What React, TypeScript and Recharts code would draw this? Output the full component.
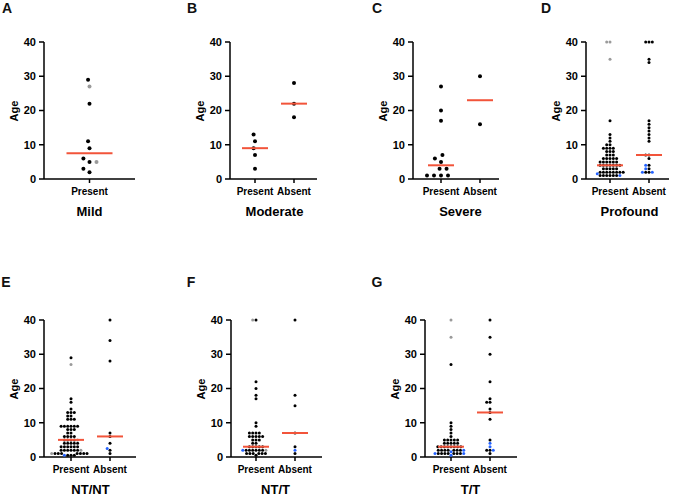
import { ScatterChart, Scatter, XAxis, YAxis } from 'recharts';

const FONT = '"Liberation Sans", Arial, Helvetica, sans-serif';

const groupLabels = ['Present', 'Absent'];
const panelLetters = ['A', 'B', 'C', 'D', 'E', 'F', 'G'];
const panelTitles = ['Mild', 'Moderate', 'Severe', 'Profound', 'NT/NT', 'NT/T', 'T/T'];
const ageTicks = [0, 10, 20, 30, 40];

// Mild
const mildPresentBlack = [29, 22, 11, 9, 6, 5, 3, 2];
const mildPresentGray = [27, 5];
const mildMedians = [7.5];

// Moderate
const moderatePresentBlack = [13, 11, 9, 7, 3];
const moderateAbsentBlack = [28, 22, 18];
const moderateMedians = [9, 22];

// Severe
const severePresentBlack = [27, 20, 17, 7, 6, 5, 3, 3, 1, 1, 1, 1];
const severeAbsentBlack = [30, 16];
const severeMedians = [4, 23];

// Profound
const profoundPresentBlack = [17, 13, 12, 11, 10, 10, 9, 9, 9, 9, 8, 8, 8, 7, 7, 7, 6, 6, 6, 6, 6, 5, 5, 5, 5, 5, 5, 4, 4, 4, 4, 4, 4, 4, 3, 3, 3, 3, 3, 2, 2, 2, 2, 2, 2, 2, 2, 1, 1, 1, 1, 1, 1];
const profoundPresentGray = [40, 40, 35];
const profoundPresentBlue = [1.5, 1];
const profoundAbsentBlack = [40, 40, 40, 35, 34, 17, 16, 15, 14, 13, 12, 11, 7, 7, 6, 4, 3, 2, 2];
const profoundAbsentBlue = [4, 3, 2, 2];
const profoundMedians = [4, 7];

// NT/NT
const ntntPresentBlack = [29, 17, 16, 14, 13, 13, 13, 12, 12, 11, 11, 11, 9, 9, 9, 9, 9, 9, 8, 8, 8, 7, 7, 6, 6, 6, 6, 5, 5, 5, 5, 4, 4, 4, 4, 4, 3, 3, 3, 3, 3, 3, 2, 2, 2, 2, 2, 2, 1, 1, 1, 1, 1, 1, 1, 0.5, 0.5, 0.5];
const ntntPresentGray = [27, 5, 2, 1];
const ntntPresentBlue = [0.5];
const ntntAbsentBlack = [40, 34, 28, 7, 6, 4, 2, 1];
const ntntAbsentBlue = [2.5];
const ntntMedians = [5, 6];

// NT/T
const nttPresentBlack = [40, 22, 20, 18, 17, 10, 9, 7, 7, 7, 7, 6, 6, 6, 6, 6, 5, 5, 5, 4, 4, 3, 3, 3, 3, 3, 2, 2, 2, 2, 2, 2, 1, 1, 1, 1, 1, 1, 0.5];
const nttPresentGray = [40, 2];
const nttPresentBlue = [2];
const nttAbsentBlack = [40, 18, 15, 7, 3, 1];
const nttAbsentBlue = [2];
const nttMedians = [3, 7];

// T/T
const ttPresentBlack = [27, 10, 9, 8, 7, 6, 5, 5, 5, 5, 5, 4, 4, 4, 4, 4, 3, 3, 3, 3, 3, 3, 3, 3, 2, 2, 2, 2, 2, 2, 2, 1, 1, 1, 1, 1, 1, 1];
const ttPresentGray = [40, 35];
const ttPresentBlue = [2, 1.5, 1, 1, 0.5];
const ttAbsentBlack = [40, 35, 30, 22, 17, 16, 16, 14, 13, 11, 5, 2, 2, 1];
const ttAbsentBlue = [4, 3, 2];
const ttMedians = [3, 13];

type Group = { black: number[]; gray?: number[]; blue?: number[] };
type Pt = { x: number; y: number };

const panelData: { groups: Group[]; medians: number[] }[] = [
  { groups: [{ black: mildPresentBlack, gray: mildPresentGray }], medians: mildMedians },
  { groups: [{ black: moderatePresentBlack }, { black: moderateAbsentBlack }], medians: moderateMedians },
  { groups: [{ black: severePresentBlack }, { black: severeAbsentBlack }], medians: severeMedians },
  {
    groups: [
      { black: profoundPresentBlack, gray: profoundPresentGray, blue: profoundPresentBlue },
      { black: profoundAbsentBlack, blue: profoundAbsentBlue },
    ],
    medians: profoundMedians,
  },
  {
    groups: [
      { black: ntntPresentBlack, gray: ntntPresentGray, blue: ntntPresentBlue },
      { black: ntntAbsentBlack, blue: ntntAbsentBlue },
    ],
    medians: ntntMedians,
  },
  {
    groups: [
      { black: nttPresentBlack, gray: nttPresentGray, blue: nttPresentBlue },
      { black: nttAbsentBlack, blue: nttAbsentBlue },
    ],
    medians: nttMedians,
  },
  {
    groups: [
      { black: ttPresentBlack, gray: ttPresentGray, blue: ttPresentBlue },
      { black: ttAbsentBlack, blue: ttAbsentBlue },
    ],
    medians: ttMedians,
  },
];

// layout: y-axis x, top of plot, plot width, first category offset, dot radius, swarm spacing, median width, letter centre
const PLOT_H = 137;
const layout = [
  { x: 44, y: 42, w: 91, first: 45.5, r: 2, gap: 7, medW: 46, lx: 7, ly: 8 },
  { x: 230, y: 42, w: 87, first: 25, r: 2, gap: 7, medW: 26, lx: 192, ly: 8 },
  { x: 413, y: 42, w: 86, first: 28, r: 2, gap: 7, medW: 26, lx: 377, ly: 8 },
  { x: 586, y: 42, w: 83, first: 24, r: 1.5, gap: 3.3, medW: 26, lx: 546, ly: 8 },
  { x: 44, y: 320, w: 92, first: 27, r: 1.5, gap: 3.3, medW: 26, lx: 6, ly: 282 },
  { x: 231, y: 320, w: 91, first: 25, r: 1.5, gap: 3.3, medW: 26, lx: 191, ly: 282 },
  { x: 425, y: 320, w: 92, first: 26, r: 1.5, gap: 3.3, medW: 26, lx: 377, ly: 282 },
];
const STEP = 39;

const COLORS = { black: '#000000', gray: '#9a9a9a', blue: '#2563ff' };

// simple beeswarm: place each point closest to centre without overlapping
function swarm(vals: number[], ppuY: number, d: number): number[] {
  const idx = vals.map((_, i) => i).sort((a, b) => vals[a] - vals[b]);
  const placed: Pt[] = [];
  const out = new Array(vals.length).fill(0);
  for (const i of idx) {
    const y = vals[i] * ppuY;
    const cands = [0];
    for (const p of placed) {
      const dy = Math.abs(p.y - y);
      if (dy < d) {
        const dx = Math.sqrt(d * d - dy * dy);
        cands.push(p.x + dx, p.x - dx);
      }
    }
    cands.sort((a, b) => Math.abs(a) - Math.abs(b) || a - b);
    let x = 0;
    for (const c of cands) {
      if (placed.every((p) => (p.x - c) ** 2 + (p.y - y) ** 2 >= d * d - 0.01)) {
        x = c;
        break;
      }
    }
    placed.push({ x, y });
    out[i] = x;
  }
  return out;
}

function buildPoints(groups: Group[], gap: number) {
  const ppuY = PLOT_H / 40;
  const res: Record<'black' | 'gray' | 'blue', Pt[]> = { black: [], gray: [], blue: [] };
  groups.forEach((g, gi) => {
    const items: { v: number; c: 'black' | 'gray' | 'blue' }[] = [
      ...g.black.map((v) => ({ v, c: 'black' as const })),
      ...(g.gray || []).map((v) => ({ v, c: 'gray' as const })),
      ...(g.blue || []).map((v) => ({ v, c: 'blue' as const })),
    ];
    const offs = swarm(items.map((it) => it.v), ppuY, gap);
    items.forEach((it, k) => res[it.c].push({ x: gi + 1 + offs[k] / STEP, y: it.v }));
  });
  return res;
}

const dotShape = (r: number, fill: string) => (p: any) => (
  <circle cx={p.cx} cy={p.cy} r={r} fill={fill} />
);
const medianShape = (w: number) => (p: any) => (
  <line x1={p.cx - w / 2} x2={p.cx + w / 2} y1={p.cy} y2={p.cy} stroke="#f2543a" strokeWidth={2} />
);

const xTickStyle = { fontSize: 10, fontWeight: 700, fill: '#000', fontFamily: FONT };
const yTickStyle = { fontSize: 11, fontWeight: 700, fill: '#000', fontFamily: FONT };
const axisStroke = { stroke: '#000', strokeWidth: 1.5 };

function Panel({ i }: { i: number }) {
  const L = layout[i];
  const data = panelData[i];
  const n = data.groups.length;
  const pts = buildPoints(data.groups, L.gap);
  const min = 1 - L.first / STEP;
  const max = min + L.w / STEP;
  const ticks = data.groups.map((_, k) => k + 1);
  const medPts = data.medians.map((m, k) => ({ x: k + 1, y: m }));
  const titleX = L.x + L.first + (STEP * (n - 1)) / 2;
  return (
    <>
      <div
        style={{
          position: 'absolute', left: L.lx, top: L.ly, transform: 'translate(-50%,-50%)',
          fontSize: 14, lineHeight: '14px', fontWeight: 700, color: '#111',
        }}
      >
        {panelLetters[i]}
      </div>
      <div
        style={{
          position: 'absolute', left: L.x - 30, top: L.y + PLOT_H / 2,
          transform: 'translate(-50%,-50%) rotate(-90deg)',
          fontSize: 11, lineHeight: '11px', fontWeight: 700, color: '#000',
        }}
      >
        Age
      </div>
      <div
        style={{
          position: 'absolute', left: titleX, top: L.y + PLOT_H + 32, transform: 'translate(-50%,-50%)',
          fontSize: 13, lineHeight: '13px', fontWeight: 700, color: '#000', whiteSpace: 'nowrap',
        }}
      >
        {panelTitles[i]}
      </div>
      <div style={{ position: 'absolute', left: L.x - 40, top: L.y - 5 }}>
        <ScatterChart width={40 + L.w + 5} height={5 + PLOT_H + 30} margin={{ top: 5, right: 5, bottom: 0, left: 0 }}>
          <XAxis
            type="number"
            dataKey="x"
            domain={[min, max]}
            ticks={ticks}
            interval={0}
            tickFormatter={(v: number) => groupLabels[Math.round(v) - 1]}
            tick={xTickStyle}
            tickSize={4}
            tickMargin={5}
            axisLine={axisStroke}
            tickLine={axisStroke}
            height={30}
          />
          <YAxis
            type="number"
            dataKey="y"
            domain={[0, 40]}
            ticks={ageTicks}
            interval={0}
            tick={yTickStyle}
            tickSize={5}
            tickMargin={3}
            axisLine={axisStroke}
            tickLine={axisStroke}
            width={40}
          />
          <Scatter data={pts.black} shape={dotShape(L.r, COLORS.black)} isAnimationActive={false} />
          <Scatter data={pts.gray} shape={dotShape(L.r, COLORS.gray)} isAnimationActive={false} />
          <Scatter data={pts.blue} shape={dotShape(L.r, COLORS.blue)} isAnimationActive={false} />
          <Scatter data={medPts} shape={medianShape(L.medW)} isAnimationActive={false} />
        </ScatterChart>
      </div>
    </>
  );
}

export default function App() {
  return (
    <div
      style={{
        position: 'absolute', left: 0, top: 0, width: 676, height: 496,
        background: '#fff', fontFamily: FONT, overflow: 'hidden',
      }}
    >
      {panelData.map((_, i) => (
        <Panel key={i} i={i} />
      ))}
    </div>
  );
}
